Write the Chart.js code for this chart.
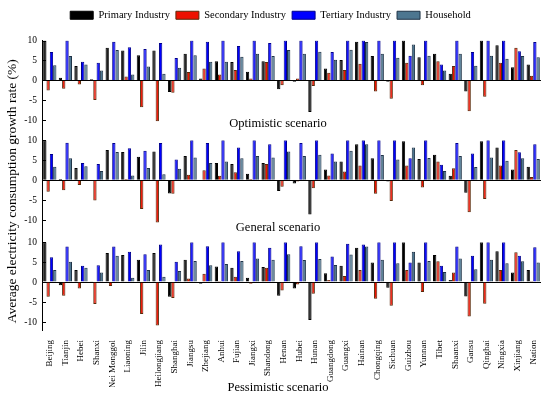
<!DOCTYPE html>
<html>
<head>
<meta charset="utf-8">
<script src="https://cdn.jsdelivr.net/npm/chart.js@4.4.1/dist/chart.umd.min.js"></script>
<style>
  html, body { margin: 0; padding: 0; background: #fff; }
  #wrap { width: 550px; height: 399px; }
</style>
</head>
<body>
<div id="wrap"><canvas id="chart" width="550" height="399"></canvas></div>
<script>
const regions = ['Beijing', 'Tianjin', 'Hebei', 'Shanxi', 'Nei Monggol', 'Liaoning', 'Jilin', 'Heilongjiang',
  'Shanghai', 'Jiangsu', 'Zhejiang', 'Anhui', 'Fujian', 'Jiangxi', 'Shandong', 'Henan', 'Hubei', 'Hunan',
  'Guangdong', 'Guangxi', 'Hainan', 'Chongqing', 'Sichuan', 'Guizhou', 'Yunnan', 'Tibet', 'Shaanxi',
  'Gansu', 'Qinghai', 'Ningxia', 'Xinjiang', 'Nation'];
const seriesNames = ['Primary Industry', 'Secondary Industry', 'Tertiary Industry', 'Household'];
const scenarioTitles = ['Optimistic scenario', 'General scenario', 'Pessimistic scenario'];
const yTickValues = [-10, -5, 0, 5, 10];

// optimistic scenario (%)
const optPrimary = [10, 0.7, 3.6, 0.3, 8.2, 7.5, 6.3, 7.5, -2.9, 6.7, 0.5, 4.8, 4.6, 2.2, 4.8, -2.2, -0.3, -7.9, 3.0, 5.1, 9.7, 6.1, -0.3, 10, 5.8, 6.7, 1.7, -2.8, 10, 8.8, 3.3, 4.0];
const optSecondary = [-2.5, -2.1, -1.0, -4.9, 0.2, 1.0, -6.7, -10.2, -3.1, 2.1, 3.0, 1.5, 2.6, 0.5, 4.6, -1.2, 0.5, -1.4, 1.9, 2.6, 4.2, -2.8, -4.6, 4.4, -1.2, 4.8, 3.6, -7.7, -4.1, 4.4, 8.2, 1.2];
const optTertiary = [7.1, 10, 4.7, 4.4, 9.7, 8.3, 7.9, 9.4, 5.6, 10, 9.7, 10, 8.6, 10, 9.4, 10, 10, 10, 7.1, 10, 10, 10, 10, 6.2, 10, 4.0, 10, 7.1, 10, 10, 7.3, 9.6];
const optHousehold = [3.8, 6.1, 4.0, 2.5, 7.6, 1.5, 3.5, 1.7, 3.2, 6.3, 4.7, 4.7, 5.9, 6.7, 6.1, 7.6, 6.7, 7.2, 5.2, 7.7, 9.6, 6.7, 5.7, 9.0, 6.2, 2.5, 6.7, 3.7, 6.2, 5.4, 6.1, 5.8];

// general scenario (%)
const genPrimary = [10, 0.3, 3.1, 0.1, 7.6, 7.1, 5.9, 7.2, -3.3, 6.1, 0.1, 4.3, 4.1, 1.6, 4.3, -2.7, -0.8, -8.6, 2.7, 4.7, 9.0, 5.5, -0.3, 9.8, 5.3, 6.4, 1.1, -3.1, 9.8, 8.2, 2.7, 3.4];
const genSecondary = [-2.9, -2.5, -1.2, -5.1, -0.2, 0.3, -7.2, -10.6, -3.4, 1.4, 2.5, 1.1, 2.0, 0.3, 4.1, -1.6, -0.3, -2.0, 1.2, 2.2, 3.7, -3.4, -5.2, 3.7, -1.8, 4.7, 3.0, -8.0, -4.7, 3.7, 7.6, 0.8];
const genTertiary = [6.6, 9.4, 4.3, 4.1, 9.3, 8.0, 7.4, 9.3, 5.2, 10, 9.3, 10, 8.2, 10, 9.0, 10, 9.3, 10, 6.7, 10, 10, 10, 10, 5.5, 10, 3.9, 9.3, 6.7, 10, 10, 7.0, 9.0];
const genHousehold = [3.4, 5.5, 3.5, 2.3, 7.1, 1.2, 3.1, 1.5, 2.9, 5.7, 4.3, 4.7, 5.5, 6.1, 5.7, 7.2, 6.1, 6.4, 4.7, 7.4, 9.0, 6.3, 5.2, 8.2, 5.6, 2.3, 6.1, 3.3, 5.7, 4.9, 5.5, 5.3];

// pessimistic scenario (%)
const pesPrimary = [10, -0.8, 3.0, 0.1, 7.3, 6.8, 5.6, 7.3, -3.7, 5.6, -0.4, 3.9, 3.6, 1.1, 3.8, -3.4, -1.6, -9.5, 2.2, 4.1, 8.6, 4.9, -1.4, 10, 4.9, 6.8, 0.5, -3.6, 10, 7.7, 2.4, 3.0];
const pesSecondary = [-3.7, -3.4, -1.6, -5.5, -1.0, 0.2, -8.0, -10.9, -4.0, 0.9, 2.1, 0.3, 1.35, -0.4, 3.6, -2.1, -0.6, -2.9, 0.5, 1.5, 3.0, -4.2, -5.9, 3.0, -2.5, 5.2, 2.4, -8.6, -5.4, 3.0, 7.5, 0.25];
const pesTertiary = [6.2, 8.9, 4.1, 4.2, 8.9, 7.6, 7.0, 9.4, 5.1, 10, 9.0, 10, 7.7, 10, 8.6, 10, 9.0, 10, 6.4, 9.6, 9.4, 10, 10, 4.9, 10, 4.1, 8.9, 6.6, 10, 10, 6.6, 8.7];
const pesHousehold = [3.0, 5.1, 3.6, 2.4, 6.6, 1.1, 3.0, 1.35, 2.8, 5.3, 4.2, 4.5, 5.3, 5.9, 5.6, 7.0, 5.5, 5.8, 4.3, 6.9, 8.9, 5.6, 4.7, 7.6, 5.3, 2.5, 5.9, 3.2, 5.6, 4.7, 5.2, 4.9];

const fills = ['#000000', '#ee1100', '#0000ff', '#4d7690'];
const edges = ['#000000', '#5a2a0a', '#00008b', '#1f3347'];

const serif = '"Liberation Serif", "Times New Roman", serif';
Chart.defaults.font.family = serif;
Chart.defaults.color = '#000';

const panels = [
  { axis: 'y1', values: [optPrimary, optSecondary, optTertiary, optHousehold] },
  { axis: 'y2', values: [genPrimary, genSecondary, genTertiary, genHousehold] },
  { axis: 'y3', values: [pesPrimary, pesSecondary, pesTertiary, pesHousehold] }
];

const datasets = [];
panels.forEach(p => {
  p.values.forEach((vals, si) => {
    datasets.push({
      label: seriesNames[si],
      data: vals,
      yAxisID: p.axis,
      stack: 'slot' + si,
      backgroundColor: fills[si],
      borderColor: edges[si],
      borderWidth: 1,
      categoryPercentage: 0.85,
      barPercentage: 1.0
    });
  });
});

function panelAxis(min, order, title) {
  return {
    type: 'linear',
    position: 'left',
    stack: 'panels',
    stackWeight: 10 - min,
    weight: order,
    min: min,
    max: 10,
    stacked: false,
    afterBuildTicks: s => { s.ticks = yTickValues.map(v => ({ value: v })); },
    afterFit: s => { s.width = 42; },
    ticks: { font: { size: 9.5 }, color: '#000', padding: 5 },
    grid: {
      drawTicks: false,
      lineWidth: 1,
      color: c => (c.tick && c.tick.value === 0) ? '#000' : 'rgba(0,0,0,0)'
    },
    border: { display: true, color: '#000', width: 1 },
    title: title
      ? { display: true, text: title, font: { size: 13.5 }, color: '#000', padding: { top: 4, bottom: 0 } }
      : { display: false }
  };
}

const decorations = {
  id: 'decorations',
  beforeInit(chart) {
    const fit = chart.legend.fit;
    chart.legend.fit = function () {
      fit.bind(chart.legend)();
      this.height += 10;
    };
  },
  afterDraw(chart) {
    const { ctx, chartArea, scales } = chart;
    ctx.save();
    // inward tick marks
    ctx.strokeStyle = '#000';
    ctx.lineWidth = 1;
    ['y1', 'y2', 'y3'].forEach(id => {
      scales[id].ticks.forEach(t => {
        const y = Math.round(scales[id].getPixelForValue(t.value)) + 0.5;
        ctx.beginPath();
        ctx.moveTo(chartArea.left, y);
        ctx.lineTo(chartArea.left + 4, y);
        ctx.stroke();
      });
    });
    // scenario titles
    ctx.fillStyle = '#000';
    ctx.font = '12.5px ' + serif;
    ctx.textAlign = 'center';
    ctx.textBaseline = 'middle';
    const cx = chart.width / 2 + 3;
    ctx.fillText(scenarioTitles[0], cx, scales.y1.getPixelForValue(-10.8));
    ctx.fillText(scenarioTitles[1], cx, scales.y2.getPixelForValue(-11.8));
    ctx.fillText(scenarioTitles[2], cx, chart.height - 11);
    ctx.restore();
  }
};

new Chart(document.getElementById('chart'), {
  type: 'bar',
  data: { labels: regions, datasets: datasets },
  options: {
    responsive: false,
    animation: false,
    devicePixelRatio: 1,
    layout: { padding: { left: 0, right: 9, top: 4, bottom: 12 } },
    plugins: {
      legend: {
        position: 'top',
        labels: {
          boxWidth: 23,
          boxHeight: 8,
          padding: 6,
          font: { size: 10.5 },
          color: '#000',
          filter: item => item.datasetIndex < 4
        }
      },
      tooltip: { enabled: false }
    },
    scales: {
      x: {
        grid: { display: false },
        border: { display: false },
        afterFit: s => { s.height = 57; },
        ticks: { autoSkip: false, maxRotation: 90, minRotation: 90, padding: 2, font: { size: 9 }, color: '#000' }
      },
      y1: panelAxis(-15, 3, null),
      y2: panelAxis(-15.5, 2, 'Average electricity consumption growth rate (%)'),
      y3: panelAxis(-12, 1, null)
    }
  },
  plugins: [decorations]
});
</script>
</body>
</html>
